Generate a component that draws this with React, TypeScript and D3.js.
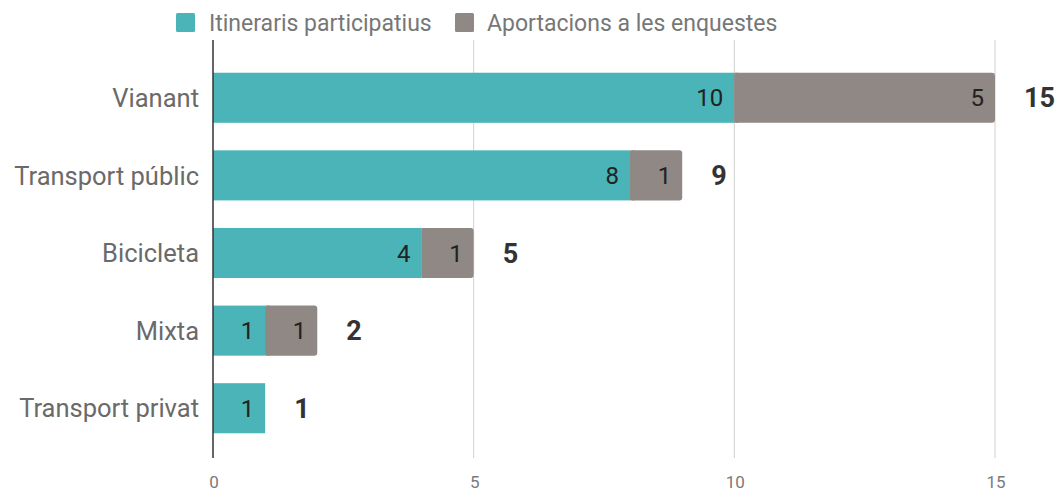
import React from "react";
import * as d3 from "d3";

const categories = ["Vianant", "Transport públic", "Bicicleta", "Mixta", "Transport privat"];
const itineraris = [10, 8, 4, 1, 1];
const aportacions = [5, 1, 1, 1, 0];
const seriesNames = ["Itineraris participatius", "Aportacions a les enquestes"];
const xTicks = [0, 5, 10, 15];

const colors = ["#4ab4b8", "#8f8884"];
const W = 1059, H = 491;

export default function App() {
  const x = d3.scaleLinear().domain([0, 15]).range([213, 995]);
  const y = d3.scaleBand().domain(categories).range([59, 447]).paddingInner(0.355).paddingOuter(0.177);
  const font = "Roboto, 'Noto Sans', sans-serif";
  return (
    <svg width={W} height={H} style={{ position: "absolute", left: 0, top: 0 }} fontFamily={font}>
      <rect width={W} height={H} fill="#fff" />
      {xTicks.map((t) => (
        <g key={t}>
          {t !== 0 && <line x1={x(t)} x2={x(t)} y1={40} y2={458} stroke="#d0d0d0" strokeWidth={1} />}
          <text x={x(t) + 1} y={488} textAnchor="middle" fontSize={17} fill="#7a7a7a">{t}</text>
        </g>
      ))}
      {categories.map((c, i) => {
        const y0 = y(c)!;
        const bh = y.bandwidth();
        const a = itineraris[i], b = aportacions[i];
        const total = a + b;
        const cy = y0 + bh / 2;
        return (
          <g key={c}>
            <text x={199} y={cy} dy="0.36em" textAnchor="end" fontSize={25.5} fill="#6a6a6a">{c}</text>
            <rect x={x(0)} y={y0} width={x(a) - x(0)} height={bh} fill={colors[0]} />
            {b > 0 && <rect x={x(a)} y={y0} width={x(total) - x(a)} height={bh} fill={colors[1]} rx={3} />}
            {b > 0 && <rect x={x(a)} y={y0} width={Math.min(4, x(total) - x(a))} height={bh} fill={colors[1]} />}
            <text x={x(a) - 11} y={cy} dy="0.36em" textAnchor="end" fontSize={24} fill="#222">{a}</text>
            {b > 0 && <text x={x(total) - 11} y={cy} dy="0.36em" textAnchor="end" fontSize={24} fill="#222">{b}</text>}
            <text x={x(total) + 29} y={cy} dy="0.36em" textAnchor="start" fontSize={27} fontWeight="bold" fill="#333">{total}</text>
          </g>
        );
      })}
      <line x1={x(0)} x2={x(0)} y1={40} y2={458} stroke="#333" strokeWidth={1.5} />
      <g>
        <rect x={176} y={13} width={19} height={19} fill={colors[0]} rx={1.5} />
        <text x={209} y={22.5} dy="0.36em" fontSize={23} fill="#777">{seriesNames[0]}</text>
        <rect x={455} y={13} width={19} height={19} fill={colors[1]} rx={1.5} />
        <text x={487} y={22.5} dy="0.36em" fontSize={23} fill="#777">{seriesNames[1]}</text>
      </g>
    </svg>
  );
}
